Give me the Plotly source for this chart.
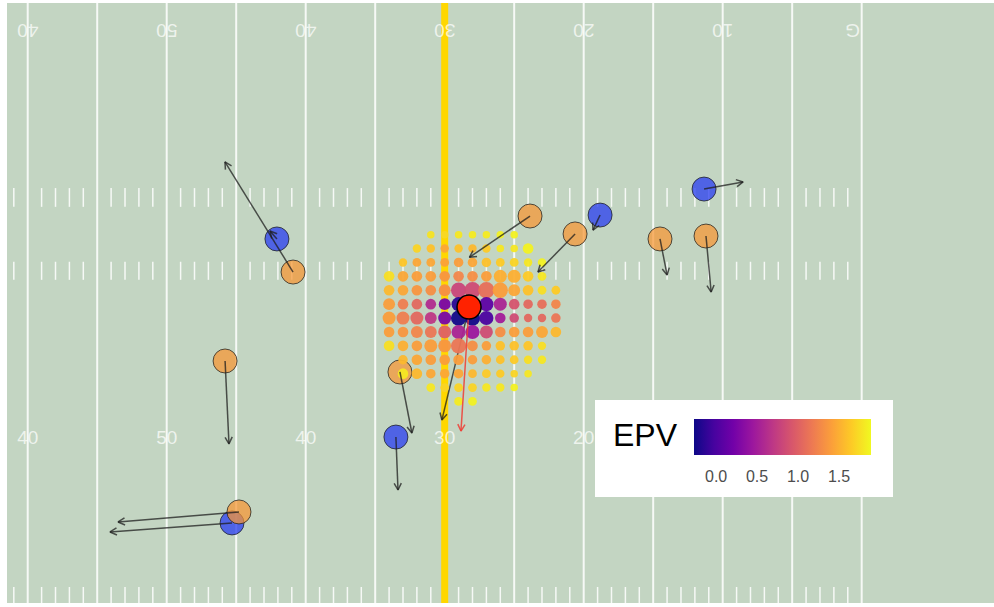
import math
import plotly.graph_objects as go

# ---------------- data ----------------
yard_lines = [50, 55, 60, 65, 70, 75, 80, 85, 90, 95, 100, 105, 110]
hash_yards = [v for v in range(49, 110) if v % 5 != 0]
hash_rows = [(0.0, 1.15), (23.25, 24.55), (28.5, 29.85)]
line_of_scrimmage = 80

top_labels = ["40", "50", "40", "30", "20", "10", "G"]
top_label_x = [50, 60, 70, 80, 90, 100, 109.3]
top_label_y = 41.2
bottom_labels = ["40", "50", "40", "30", "20", "10", "G"]
bottom_label_x = [50, 60, 70, 80, 90, 100, 110.7]
bottom_label_y = 11.8

# players (yards) and their velocity-arrow end points
orange_x = [69.09, 86.14, 89.38, 95.49, 98.80, 64.20, 76.78, 65.20]
orange_y = [23.81, 27.84, 26.55, 26.19, 26.40, 17.41, 16.62, 6.55]
orange_xend = [64.19, 81.78, 86.71, 96.00, 99.17, 64.48, 77.64, 56.50]
orange_yend = [31.73, 24.87, 23.81, 23.60, 22.37, 11.45, 12.23, 5.83]

blue_x = [67.93, 91.18, 98.66, 76.49, 64.70]
blue_y = [26.19, 27.91, 29.78, 11.94, 5.76]
blue_xend = [67.43, 90.67, 101.47, 76.64, 55.92]
blue_yend = [26.76, 26.83, 30.29, 8.13, 5.11]

carrier_x, carrier_y = 81.75, 21.29
carrier_move_xend, carrier_move_yend = 79.80, 13.17
carrier_ball_xend, carrier_ball_yend = 81.17, 12.37

# EPV grid
grid_x = [76, 77, 78, 79, 80, 81, 82, 83, 84, 85, 86, 87, 88]
grid_y = [26.5, 25.5, 24.5, 23.5, 22.5, 21.5, 20.5, 19.5, 18.5, 17.5, 16.5, 15.5, 14.5]
N = None
epv = [
    [N, N, N, 1.78, 1.72, 1.80, 1.82, 1.82, 1.85, 1.85, N, N, N],
    [N, N, 1.70, 1.60, 1.45, 1.60, 1.55, 1.65, 1.80, 1.80, 1.85, N, N],
    [N, 1.62, 1.45, 1.45, 1.42, 1.40, 1.45, 1.60, 1.65, 1.70, 1.80, 1.85, N],
    [1.75, 1.45, 1.40, 1.40, 1.35, 1.25, 1.30, 1.40, 1.50, 1.50, 1.65, 1.80, N],
    [1.55, 1.45, 1.35, 1.30, 1.30, 0.80, 0.85, 1.10, 1.40, 1.45, 1.60, 1.75, 1.65],
    [1.40, 1.20, 1.05, 0.60, 0.25, -0.15, -0.20, 0.10, 0.55, 0.90, 1.05, 1.10, 1.25],
    [1.40, 1.20, 1.05, 0.70, 0.25, -0.25, -0.25, 0.00, 0.50, 0.85, 1.05, 1.05, 1.15],
    [1.40, 1.35, 1.25, 1.15, 1.00, 0.55, 0.45, 0.85, 1.30, 1.40, 1.40, 1.45, 1.55],
    [1.75, 1.50, 1.40, 1.40, 1.35, 1.15, 1.30, 1.40, 1.60, 1.60, 1.62, 1.75, N],
    [N, 1.55, 1.45, 1.40, 1.40, 1.40, 1.40, 1.50, 1.60, 1.65, 1.75, 1.80, N],
    [N, 1.80, 1.55, 1.45, 1.45, 1.45, 1.55, 1.65, 1.65, 1.70, 1.80, N, N],
    [N, N, N, 1.80, 1.70, 1.70, 1.70, 1.80, 1.80, 1.85, N, N, N],
    [N, N, N, N, N, 1.82, 1.85, N, N, N, N, N, N],
]
density = [
    [N, N, N, 0.20, 0.20, 0.20, 0.20, 0.20, 0.20, 0.20, N, N, N],
    [N, N, 0.27, 0.27, 0.27, 0.27, 0.27, 0.27, 0.20, 0.20, 0.45, N, N],
    [N, 0.27, 0.30, 0.30, 0.30, 0.36, 0.36, 0.36, 0.30, 0.30, 0.27, 0.27, N],
    [0.45, 0.45, 0.45, 0.45, 0.45, 0.45, 0.45, 0.45, 0.64, 0.64, 0.45, 0.30, N],
    [0.45, 0.45, 0.45, 0.45, 0.55, 0.82, 0.91, 0.91, 0.82, 0.55, 0.45, 0.30, 0.30],
    [0.55, 0.45, 0.45, 0.45, 0.55, 0.73, 0.82, 0.73, 0.64, 0.45, 0.36, 0.36, 0.36],
    [0.64, 0.64, 0.64, 0.55, 0.64, 0.82, 0.82, 0.73, 0.45, 0.36, 0.27, 0.27, 0.36],
    [0.45, 0.45, 0.55, 0.55, 0.64, 0.73, 0.73, 0.64, 0.45, 0.45, 0.45, 0.55, 0.45],
    [0.45, 0.45, 0.45, 0.64, 0.64, 0.82, 0.45, 0.36, 0.36, 0.36, 0.36, 0.27, N],
    [N, 0.36, 0.45, 0.45, 0.45, 0.45, 0.36, 0.36, 0.30, 0.30, 0.27, 0.27, N],
    [N, 0.45, 0.45, 0.36, 0.36, 0.36, 0.30, 0.30, 0.27, 0.20, 0.20, N, N],
    [N, N, N, 0.30, 0.30, 0.30, 0.30, 0.27, 0.27, 0.20, N, N, N],
    [N, N, N, N, N, 0.30, 0.30, N, N, N, N, N, N],
]
epv_ticks = [0.0, 0.5, 1.0, 1.5]
epv_min, epv_max = -0.27, 1.89

# ---------------- styling ----------------
FIELD = "#c3d5c2"
LINE = "rgba(255,255,255,0.85)"
NUM = "rgba(255,255,255,0.72)"
X_RANGE = [48.51, 119.52]
Y_RANGE = [0.0, 43.165]
ARM = 0.55
ANG = math.radians(28)


def arrow_path(xs, ys, xe, ye):
    px, py = [], []
    for x0, y0, x1, y1 in zip(xs, ys, xe, ye):
        dx, dy = x1 - x0, y1 - y0
        d = math.hypot(dx, dy) or 1.0
        ux, uy = dx / d, dy / d
        px += [x0, x1, None]
        py += [y0, y1, None]
        for s in (1, -1):
            c, sn = math.cos(s * ANG), math.sin(s * ANG)
            rx, ry = ux * c - uy * sn, ux * sn + uy * c
            px.append(x1 - ARM * rx)
            py.append(y1 - ARM * ry)
            if s == 1:
                px.append(x1)
                py.append(y1)
        px.append(None)
        py.append(None)
    return px, py


fig = go.Figure()

# hash marks
hx, hy = [], []
for y0, y1 in hash_rows:
    for v in hash_yards:
        hx += [v, v, None]
        hy += [y0, y1, None]
fig.add_trace(go.Scatter(x=hx, y=hy, mode="lines", line=dict(color=LINE, width=1.5),
                         hoverinfo="skip", showlegend=False))

# yard lines
lx, ly = [], []
for v in yard_lines:
    lx += [v, v, None]
    ly += [-1, 60, None]
fig.add_trace(go.Scatter(x=lx, y=ly, mode="lines", line=dict(color=LINE, width=2),
                         hoverinfo="skip", showlegend=False))

# line of scrimmage
fig.add_trace(go.Scatter(x=[line_of_scrimmage, line_of_scrimmage], y=[-1, 60], mode="lines",
                         line=dict(color="#FFD700", width=7), hoverinfo="skip", showlegend=False))

# bottom numbers
fig.add_trace(go.Scatter(x=bottom_label_x, y=[bottom_label_y] * len(bottom_label_x),
                         mode="text", text=bottom_labels,
                         textfont=dict(size=19, color=NUM, family="Liberation Sans, Arial"),
                         hoverinfo="skip", showlegend=False))

# players
fig.add_trace(go.Scatter(x=blue_x, y=blue_y, mode="markers",
                         marker=dict(size=24, color="rgba(40,60,240,0.75)",
                                     line=dict(color="rgba(30,30,30,0.75)", width=1)),
                         hoverinfo="skip", showlegend=False))
fig.add_trace(go.Scatter(x=orange_x, y=orange_y, mode="markers",
                         marker=dict(size=24, color="rgba(248,150,50,0.72)",
                                     line=dict(color="rgba(30,30,30,0.75)", width=1)),
                         hoverinfo="skip", showlegend=False))

# carrier movement arrow (under EPV dots)
ax_, ay_ = arrow_path([carrier_x], [carrier_y], [carrier_move_xend], [carrier_move_yend])
fig.add_trace(go.Scatter(x=ax_, y=ay_, mode="lines",
                         line=dict(color="rgba(30,30,30,0.75)", width=1.5),
                         hoverinfo="skip", showlegend=False))

# EPV dots
gx, gy, gc, gs = [], [], [], []
for i, yy in enumerate(grid_y):
    for j, xx in enumerate(grid_x):
        if epv[i][j] is None:
            continue
        gx.append(xx)
        gy.append(yy)
        gc.append(epv[i][j])
        gs.append(5 + 12.5 * density[i][j])
fig.add_trace(go.Scatter(
    x=gx, y=gy, mode="markers",
    marker=dict(size=gs, color=gc, colorscale="Plasma", cmin=epv_min, cmax=epv_max,
                opacity=0.95, line=dict(width=0),
                colorbar=dict(
                    orientation="h", thickness=36, thicknessmode="pixels",
                    len=177, lenmode="pixels",
                    x=(782.5 - 7) / 987, xanchor="center",
                    y=(603 - 419) / 600, yanchor="top",
                    xpad=0, ypad=0, outlinewidth=0,
                    tickvals=epv_ticks, ticktext=[f"{t:.1f}" for t in epv_ticks],
                    ticks="outside", ticklen=8, tickcolor="white",
                    tickfont=dict(size=16, color="#4d4d4d", family="Liberation Sans, Arial"),
                    title=dict(text=""),
                )),
    hoverinfo="skip", showlegend=False))

# player arrows
px_, py_ = arrow_path(orange_x + blue_x, orange_y + blue_y,
                      orange_xend + blue_xend, orange_yend + blue_yend)
fig.add_trace(go.Scatter(x=px_, y=py_, mode="lines",
                         line=dict(color="rgba(30,30,30,0.75)", width=1.5),
                         hoverinfo="skip", showlegend=False))

# ball arrow and carrier
bx_, by_ = arrow_path([carrier_x], [carrier_y], [carrier_ball_xend], [carrier_ball_yend])
fig.add_trace(go.Scatter(x=bx_, y=by_, mode="lines",
                         line=dict(color="rgba(240,60,50,0.85)", width=1.5),
                         hoverinfo="skip", showlegend=False))
fig.add_trace(go.Scatter(x=[carrier_x], y=[carrier_y], mode="markers",
                         marker=dict(size=24, color="#ff2200", line=dict(color="black", width=1.5)),
                         hoverinfo="skip", showlegend=False))

# top (upside-down) numbers
for lab, xv in zip(top_labels, top_label_x):
    fig.add_annotation(x=xv, y=top_label_y, text=lab, showarrow=False, textangle=180,
                       font=dict(size=19, color=NUM, family="Liberation Sans, Arial"),
                       xref="x", yref="y")

# legend box
fig.add_shape(type="rect", xref="paper", yref="paper",
              x0=(595 - 7) / 987, x1=(893 - 7) / 987,
              y0=(603 - 497) / 600, y1=(603 - 400) / 600,
              fillcolor="white", line=dict(width=0), layer="above")
fig.add_annotation(x=(645 - 7) / 987, y=(603 - 455) / 600, xref="paper", yref="paper",
                   text="EPV", showarrow=False,
                   font=dict(size=32, color="black", family="Liberation Sans, Arial"))

fig.update_xaxes(range=X_RANGE, visible=False, fixedrange=True)
fig.update_yaxes(range=Y_RANGE, visible=False, fixedrange=True)
fig.update_layout(
    width=994, height=607,
    margin=dict(l=7, r=0, t=3, b=4),
    paper_bgcolor="white", plot_bgcolor=FIELD,
    showlegend=False,
)
fig.write_html("out.html", config={"displayModeBar": False},
               post_script="document.body.style.margin='0px';document.body.style.overflow='hidden';")
